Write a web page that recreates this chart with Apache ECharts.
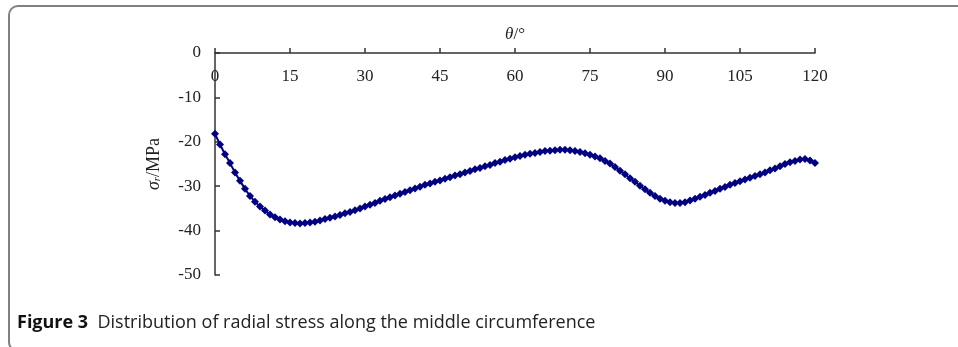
<!DOCTYPE html>
<html>
<head>
<meta charset="utf-8">
<script src="https://cdn.jsdelivr.net/npm/echarts@6/dist/echarts.min.js"></script>
<style>
html,body{margin:0;padding:0;background:#fff;}
#c{width:958px;height:347px;}
</style>
</head>
<body>
<div id="c"></div>
<script>
var theta = [];
for (var d = 0; d <= 120; d++) theta.push(d);
var stress = [
-18.2,-20.6,-22.8,-24.8,-26.9,-28.8,-30.6,-32.2,-33.5,-34.6,
-35.5,-36.4,-37.0,-37.5,-37.9,-38.2,-38.3,-38.4,-38.3,-38.2,
-38.0,-37.7,-37.4,-37.1,-36.8,-36.5,-36.1,-35.8,-35.4,-35.0,
-34.6,-34.2,-33.8,-33.3,-32.9,-32.5,-32.1,-31.7,-31.3,-30.9,
-30.5,-30.1,-29.7,-29.4,-29.0,-28.7,-28.3,-28.0,-27.6,-27.3,
-26.9,-26.6,-26.2,-25.9,-25.5,-25.2,-24.8,-24.5,-24.1,-23.8,
-23.5,-23.2,-22.9,-22.7,-22.5,-22.3,-22.1,-22.0,-21.9,-21.8,
-21.8,-21.9,-22.1,-22.3,-22.6,-22.9,-23.3,-23.7,-24.3,-24.9,
-25.7,-26.5,-27.3,-28.2,-29.0,-29.9,-30.7,-31.5,-32.2,-32.8,
-33.3,-33.6,-33.8,-33.8,-33.6,-33.2,-32.8,-32.4,-32.0,-31.5,
-31.1,-30.6,-30.2,-29.7,-29.3,-28.9,-28.5,-28.1,-27.7,-27.3,
-26.9,-26.4,-26.0,-25.5,-25.0,-24.6,-24.3,-24.0,-23.9,-24.2,
-24.8
];
var xTicks = [0,15,30,45,60,75,90,105,120];
var yTicks = [0,-10,-20,-30,-40,-50];
var caption = 'Distribution of radial stress along the middle circumference';

var serif = '"Liberation Serif","Times New Roman",serif';
var chart = echarts.init(document.getElementById('c'), null, {renderer:'canvas'});
var pts = theta.map(function(t,i){return [t, stress[i]];});
chart.setOption({
  animation:false,
  backgroundColor:'#fff',
  grid:{left:215, top:53, width:600, height:222, containLabel:false},
  xAxis:{
    type:'value', position:'top', min:xTicks[0], max:xTicks[xTicks.length-1], interval:15,
    axisLine:{show:true, onZero:false, lineStyle:{color:'#333', width:1.5}},
    axisTick:{show:true, inside:false, length:5, lineStyle:{color:'#333', width:1.5}},
    axisLabel:{inside:true, margin:15, fontSize:17, fontFamily:serif, color:'#222'},
    splitLine:{show:false},
    name:'{i|θ}{n|/°}', nameLocation:'middle', nameGap:10,
    nameTextStyle:{rich:{i:{fontStyle:'italic', fontSize:17, fontFamily:serif, color:'#222'}, n:{fontSize:17, fontFamily:serif, color:'#222'}}}
  },
  yAxis:{
    type:'value', min:yTicks[yTicks.length-1], max:yTicks[0], interval:10,
    axisLine:{show:true, onZero:false, lineStyle:{color:'#333', width:1.5}},
    axisTick:{show:true, inside:true, length:5, lineStyle:{color:'#333', width:1.5}},
    axisLabel:{margin:14, fontSize:17, fontFamily:serif, color:'#222'},
    splitLine:{show:false},
    name:'{i|σ}{s|r}{n|/MPa}', nameLocation:'middle', nameGap:52, nameRotate:90,
    nameTextStyle:{rich:{
      i:{fontStyle:'italic', fontSize:18, fontFamily:serif, color:'#222'},
      s:{fontStyle:'italic', fontSize:11, fontFamily:serif, color:'#222', verticalAlign:'bottom', padding:[7,0,0,0]},
      n:{fontSize:18, fontFamily:serif, color:'#222'}}}
  },
  series:[{
    type:'line', data:pts, symbol:'diamond', symbolSize:8, showAllSymbol:true,
    itemStyle:{color:'#000080'}, lineStyle:{color:'#000080', width:2}
  }],
  graphic:[
    {type:'rect', shape:{x:9, y:6, width:970, height:345, r:9}, style:{fill:'none', stroke:'#808080', lineWidth:2}, silent:true},
    {type:'text', left:17, top:314, style:{
      text:'{b|Figure 3}{r|  '+caption+'}',
      rich:{b:{fontWeight:'bold', fontSize:18, fontFamily:'"Open Sans",sans-serif', fill:'#111'},
            r:{fontSize:18, fontFamily:'"Open Sans",sans-serif', fill:'#222'}}
    }}
  ]
});
</script>
</body>
</html>
